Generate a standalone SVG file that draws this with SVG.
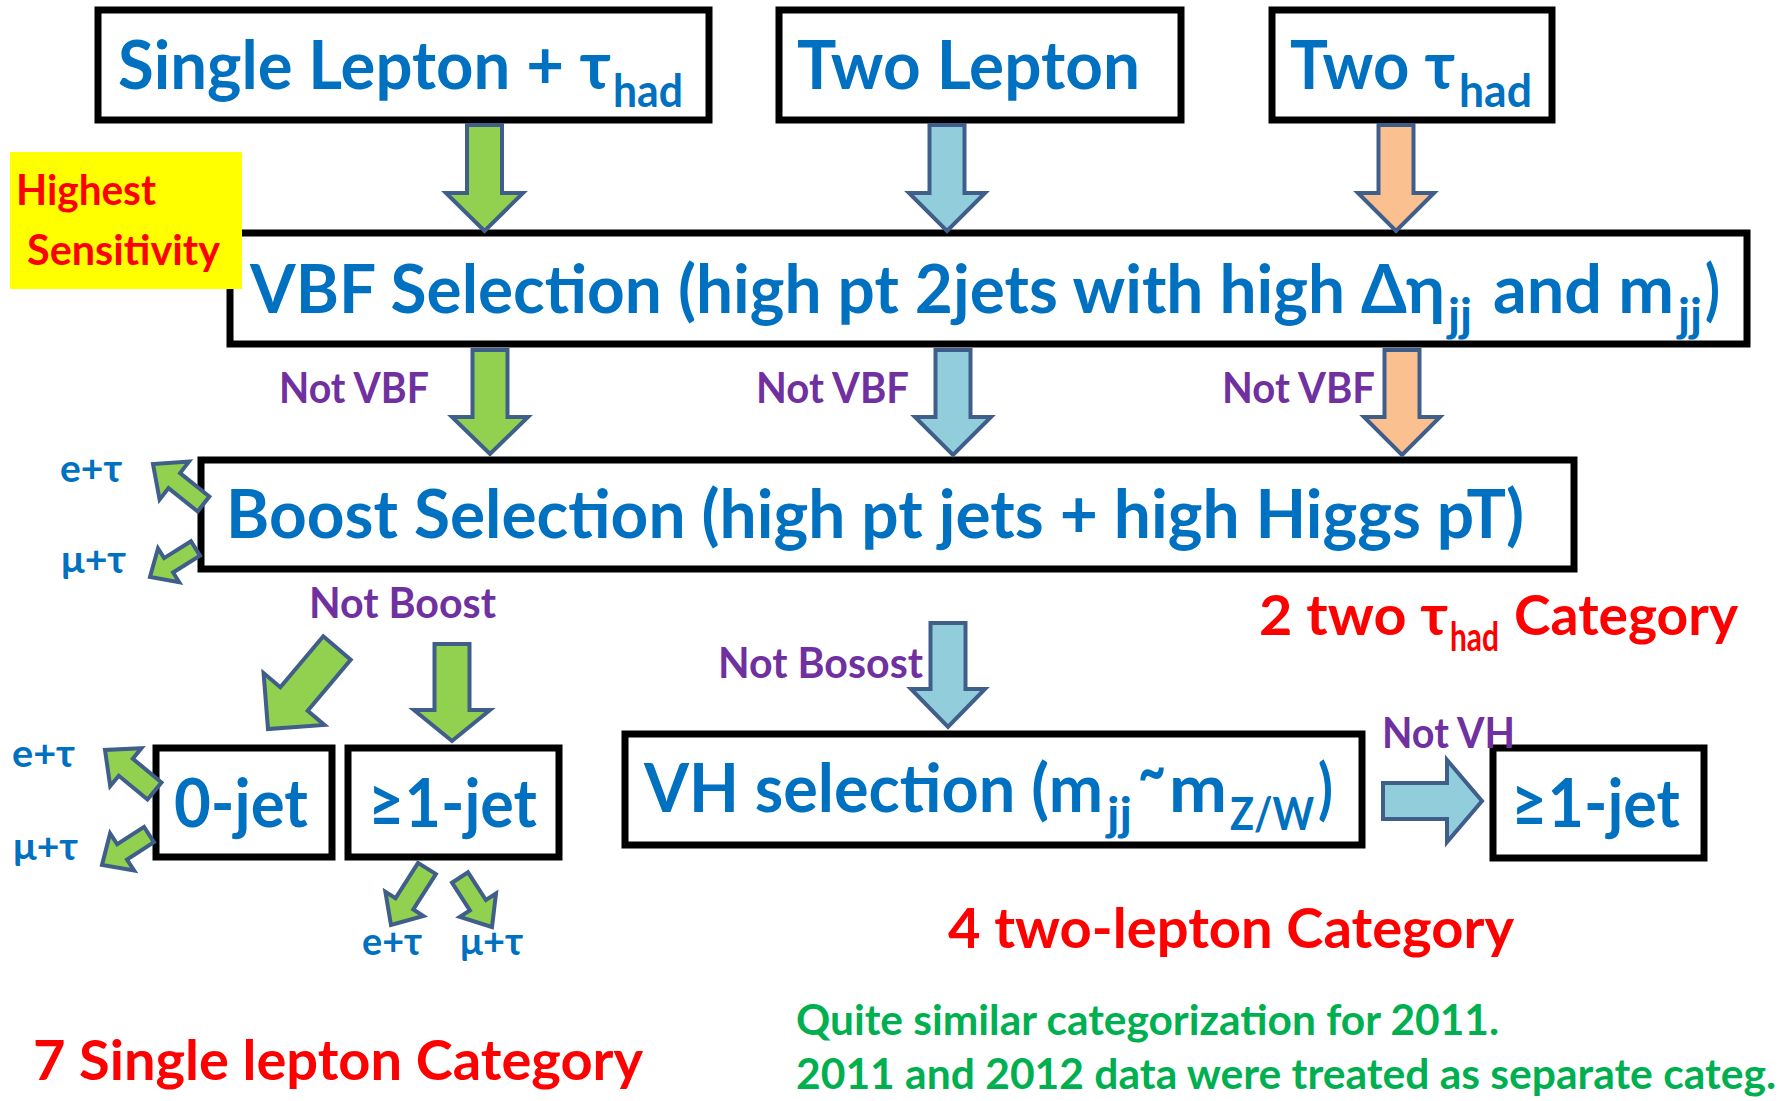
<svg xmlns="http://www.w3.org/2000/svg" width="1791" height="1101" viewBox="0 0 1791 1101">
  <style>
    text { font-family: Lato, "Noto Sans", "DejaVu Sans", sans-serif; font-weight: bold; }
    .box { fill: #ffffff; stroke: #000000; stroke-width: 7; }
    .big { font-size: 66px; fill: #0070C0; }
    .sub { font-size: 45px; fill: #0070C0; }
    .lbl { font-size: 42px; fill: #7030A0; }
    .ch { font-size: 38px; fill: #0070C0; }
    .cat { font-size: 56px; fill: #FF0000; }
    .catsub { font-size: 40px; fill: #FF0000; }
    .hl { font-size: 42px; fill: #FF0000; }
    .note { font-size: 42px; fill: #00B050; }
    .arr { stroke: #3F5E8A; stroke-width: 4; stroke-linejoin: miter; }
    .g { fill: #92D050; }
    .b { fill: #92CDDC; }
    .o { fill: #FAC090; }
  </style>

  <rect width="1791" height="1101" fill="#ffffff"/>

  <!-- input channels -->
  <g id="single-lepton">
    <rect class="box" x="98" y="10" width="611" height="110"/>
    <text class="big" x="118" y="89" textLength="493" lengthAdjust="spacingAndGlyphs">Single Lepton + τ</text>
    <text class="sub" x="613" y="107" textLength="70" lengthAdjust="spacingAndGlyphs">had</text>
  </g>
  <g id="two-lepton">
    <rect class="box" x="779" y="10" width="402" height="110"/>
    <text class="big" x="797" y="89" textLength="343" lengthAdjust="spacingAndGlyphs">Two Lepton</text>
  </g>
  <g id="two-tau">
    <rect class="box" x="1272" y="10" width="280" height="110"/>
    <text class="big" x="1290" y="89" textLength="165" lengthAdjust="spacingAndGlyphs">Two τ</text>
    <text class="sub" x="1459" y="107" textLength="73" lengthAdjust="spacingAndGlyphs">had</text>
  </g>

  <!-- VBF selection -->
  <g id="vbf">
    <rect class="box" x="230" y="233" width="1517" height="111"/>
    <text class="big" x="250" y="313" textLength="1195" lengthAdjust="spacingAndGlyphs">VBF Selection (high pt 2jets with high Δη</text>
    <text class="sub" x="1448" y="331" textLength="24" lengthAdjust="spacingAndGlyphs">jj</text>
    <text class="big" x="1493" y="313" textLength="181" lengthAdjust="spacingAndGlyphs">and m</text>
    <text class="sub" x="1678" y="331" textLength="24" lengthAdjust="spacingAndGlyphs">jj</text>
    <text class="big" x="1705" y="313" textLength="15" lengthAdjust="spacingAndGlyphs">)</text>
  </g>

  <g id="highest-sensitivity">
    <rect x="10" y="152" width="232" height="137" fill="#FFFF00"/>
    <text class="hl" x="16" y="205" textLength="140" lengthAdjust="spacingAndGlyphs">Highest</text>
    <text class="hl" x="27" y="265" textLength="193" lengthAdjust="spacingAndGlyphs">Sensitivity</text>
  </g>

  <!-- Boost selection -->
  <g id="boost">
    <rect class="box" x="201" y="460" width="1373" height="109"/>
    <text class="big" x="226" y="538" textLength="1298" lengthAdjust="spacingAndGlyphs">Boost Selection (high pt jets + high Higgs pT)</text>
  </g>

  <!-- single lepton sub-categories -->
  <g id="zero-jet">
    <rect class="box" x="156" y="748" width="176" height="109"/>
    <text class="big" x="174" y="827" textLength="134" lengthAdjust="spacingAndGlyphs">0-jet</text>
  </g>
  <g id="one-jet">
    <rect class="box" x="348" y="748" width="211" height="109"/>
    <text class="big" x="368" y="827" textLength="169" lengthAdjust="spacingAndGlyphs">≥1-jet</text>
  </g>

  <!-- VH selection -->
  <g id="vh">
    <rect class="box" x="625" y="734" width="737" height="111"/>
    <text class="big" x="644" y="812" textLength="459" lengthAdjust="spacingAndGlyphs">VH selection (m</text>
    <text class="sub" x="1107" y="830" textLength="25" lengthAdjust="spacingAndGlyphs">jj</text>
    <text class="big" x="1138" y="794" textLength="28" lengthAdjust="spacingAndGlyphs">~</text>
    <text class="big" x="1169" y="812" textLength="58" lengthAdjust="spacingAndGlyphs">m</text>
    <text class="sub" x="1230" y="830" textLength="84" lengthAdjust="spacingAndGlyphs">Z/W</text>
    <text class="big" x="1318" y="812" textLength="15" lengthAdjust="spacingAndGlyphs">)</text>
  </g>
  <g id="vh-one-jet">
    <rect class="box" x="1493" y="748" width="211" height="110"/>
    <text class="big" x="1511" y="827" textLength="169" lengthAdjust="spacingAndGlyphs">≥1-jet</text>
  </g>

  <!-- connectors -->
  <g id="connectors" class="arr">
    <!-- channels into VBF -->
    <polygon class="g" points="467,125 502,125 502,193 523,193 484.5,231 446,193 467,193"/>
    <polygon class="b" points="929.5,125 964.5,125 964.5,193 985,193 947,231 909,193 929.5,193"/>
    <polygon class="o" points="1378.5,125 1413.5,125 1413.5,193 1434,193 1396,231 1358,193 1378.5,193"/>
    <!-- VBF into Boost -->
    <polygon class="g" points="472.5,350 507.5,350 507.5,417 528,417 490,454 452,417 472.5,417"/>
    <polygon class="b" points="935.5,350 970.5,350 970.5,417 991,417 953,455 915,417 935.5,417"/>
    <polygon class="o" points="1384.5,350 1419.5,350 1419.5,417 1440,417 1402,455 1364,417 1384.5,417"/>
    <!-- Boost side outputs -->
    <polygon class="g" points="209.3,496.5 180.1,473.1 189,461.6 153,464 159.6,499.6 168.5,488.1 197.7,511.5"/>
    <polygon class="g" points="191,541.3 164.1,558.1 158,548.3 150,577 179.2,582.3 173.1,572.5 200,555.7"/>
    <!-- Not Boost -->
    <polygon class="g" points="323.3,636.3 280.3,687.3 263.6,673.1 268,729 324.4,724.9 307.7,710.7 350.7,659.7"/>
    <polygon class="g" points="434.5,644 469.5,644 469.5,710 490,710 452,741 414,710 434.5,710"/>
    <polygon class="b" points="930.5,623 965.5,623 965.5,689 985,689 948,727 911,689 930.5,689"/>
    <!-- 0-jet outputs -->
    <polygon class="g" points="161.5,782.5 132.8,758.7 141.4,748.3 105,750 110.2,786.1 118.8,775.7 147.5,799.5"/>
    <polygon class="g" points="144.1,826.9 117.2,844.3 110.1,833.4 102,865 134.1,870.4 127,859.5 153.9,842.1"/>
    <!-- >=1-jet outputs -->
    <polygon class="g" points="418.1,862.9 395.5,898.3 385.4,891.8 391,925 423.4,916 413.3,909.5 435.9,874.1"/>
    <polygon class="g" points="452,882.7 469.9,910.4 459.8,916.9 492,927 496,893.5 485.9,900 468,872.3"/>
    <!-- Not VH -->
    <polygon class="b" points="1383,783 1447,783 1447,760 1482,801 1447,842 1447,819 1383,819"/>
  </g>

  <!-- connector labels -->
  <g id="labels">
    <text class="lbl" x="279" y="403" textLength="150" lengthAdjust="spacingAndGlyphs">Not VBF</text>
    <text class="lbl" x="756" y="403" textLength="153" lengthAdjust="spacingAndGlyphs">Not VBF</text>
    <text class="lbl" x="1222" y="403" textLength="153" lengthAdjust="spacingAndGlyphs">Not VBF</text>
    <text class="lbl" x="309" y="618" textLength="187" lengthAdjust="spacingAndGlyphs">Not Boost</text>
    <text class="lbl" x="718" y="678" textLength="205" lengthAdjust="spacingAndGlyphs">Not Bosost</text>
    <text class="lbl" x="1382" y="748" textLength="133" lengthAdjust="spacingAndGlyphs">Not VH</text>
    <text class="ch" x="60" y="482" textLength="62" lengthAdjust="spacingAndGlyphs">e+τ</text>
    <text class="ch" x="61" y="573" textLength="65" lengthAdjust="spacingAndGlyphs">μ+τ</text>
    <text class="ch" x="12" y="767" textLength="63" lengthAdjust="spacingAndGlyphs">e+τ</text>
    <text class="ch" x="13" y="860" textLength="65" lengthAdjust="spacingAndGlyphs">μ+τ</text>
    <text class="ch" x="362" y="955" textLength="60" lengthAdjust="spacingAndGlyphs">e+τ</text>
    <text class="ch" x="460" y="955" textLength="63" lengthAdjust="spacingAndGlyphs">μ+τ</text>
  </g>

  <!-- category counts and notes -->
  <g id="categories">
    <text class="cat" x="1259" y="635" textLength="189" lengthAdjust="spacingAndGlyphs">2 two τ</text>
    <text class="catsub" x="1450" y="651" textLength="49" lengthAdjust="spacingAndGlyphs">had</text>
    <text class="cat" x="1514" y="635" textLength="224" lengthAdjust="spacingAndGlyphs">Category</text>
    <text class="cat" x="948" y="948" textLength="566" lengthAdjust="spacingAndGlyphs">4 two-lepton Category</text>
    <text class="cat" x="33" y="1080" textLength="610" lengthAdjust="spacingAndGlyphs">7 Single lepton Category</text>
    <text class="note" x="796" y="1035" textLength="703" lengthAdjust="spacingAndGlyphs">Quite similar categorization for 2011.</text>
    <text class="note" x="796" y="1089" textLength="980" lengthAdjust="spacingAndGlyphs">2011 and 2012 data were treated as separate categ.</text>
  </g>
</svg>
